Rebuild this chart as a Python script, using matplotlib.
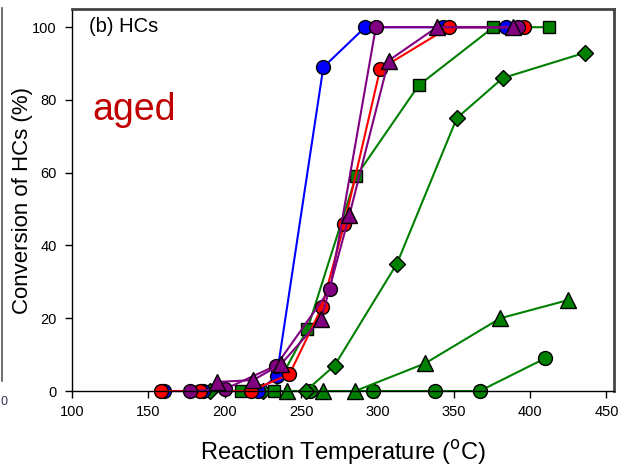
import matplotlib.pyplot as plt
from matplotlib.lines import Line2D

plt.rcParams['font.family'] = ['Liberation Sans', 'DejaVu Sans']

# temperature (C) / conversion (%) for each catalyst
blue_c_x = [160, 186, 222, 234, 264.6, 292, 343, 384]
blue_c_y = [0, 0, 0, 4, 89, 100, 100, 100]
red_c_x = [158, 184, 217, 242.4, 263.6, 278.4, 301.8, 347, 396]
red_c_y = [0, 0, 0, 4.6, 23, 46, 88.5, 100, 100]
pur_c_x = [177, 200, 233.7, 269, 299, 392]
pur_c_y = [0, 0.5, 7, 28, 100, 100]
pur_t_x = [195, 218.6, 236.7, 263.2, 281.7, 307.3, 339, 389]
pur_t_y = [2.5, 3, 7.3, 19.8, 48.4, 90.8, 100, 100]
grn_s_x = [211, 232, 254.2, 286, 327, 376, 412.6]
grn_s_y = [0, 0, 17, 59, 84, 100, 100]
grn_d_x = [190.4, 225, 253, 272, 312.8, 352, 382, 436]
grn_d_y = [0, 0, 0, 7, 35, 75, 86, 93]
grn_t_x = [240.7, 264.5, 285.5, 331.3, 380.5, 425]
grn_t_y = [0, 0, 0, 7.6, 20, 25]
grn_c_x = [256, 297, 338, 367, 410]
grn_c_y = [0, 0, 0, 0, 9]

fig = plt.figure(figsize=(6.19, 4.67), dpi=100)
ax = fig.add_axes([0.1163, 0.1627, 0.8757, 0.818])

series = [
    (grn_c_x, grn_c_y, '#008000', 'o'),
    (grn_t_x, grn_t_y, '#008000', '^'),
    (grn_d_x, grn_d_y, '#008000', 'D'),
    (grn_s_x, grn_s_y, '#008000', 's'),
    (blue_c_x, blue_c_y, '#0000FF', 'o'),
    (red_c_x, red_c_y, '#FF0000', 'o'),
    (pur_c_x, pur_c_y, '#800080', 'o'),
    (pur_t_x, pur_t_y, '#800080', '^'),
]
for x, y, col, m in series:
    ms = 10
    if m == 'D':
        ms = 8
    if m == 's':
        ms = 9
    if m == '^':
        ms = 11
    ax.plot(x, y, color=col, lw=1.5, marker=m, markersize=ms,
            markerfacecolor=col, markeredgecolor='black', markeredgewidth=1,
            clip_on=False)

ax.set_xlim(100, 455)
ax.set_ylim(0, 105)
ax.set_xticks(range(100, 451, 50))
ax.set_yticks(range(0, 101, 20))
ax.tick_params(direction='out', length=5, width=1, labelsize=10.5)
ax.tick_params(axis='y', pad=6)
ax.tick_params(axis='x', pad=5)
for s in ['top', 'right']:
    ax.spines[s].set_color('#444444')
    ax.spines[s].set_linewidth(2)
ax.spines['left'].set_linewidth(1)
ax.spines['bottom'].set_linewidth(1)

ax.set_xlabel('Reaction Temperature ($^{\\rm o}$C)', fontsize=17, labelpad=14)
ax.set_ylabel('Conversion of HCs (%)', fontsize=16, labelpad=-1)

ax.text(0.031, 0.953, '(b) HCs', transform=ax.transAxes, fontsize=14.5,
        va='center', ha='left')
ax.text(0.038, 0.736, 'aged', transform=ax.transAxes, fontsize=27,
        color='#C00000', va='center', ha='left')

# leftover edge of neighbouring panel
fig.add_artist(Line2D([0.004, 0.004], [0.185, 0.982], color='#555555', lw=1.2))
fig.text(0.001, 0.14, '0', fontsize=9, color='#333355', va='center')

fig.savefig('out.png', dpi=100)
